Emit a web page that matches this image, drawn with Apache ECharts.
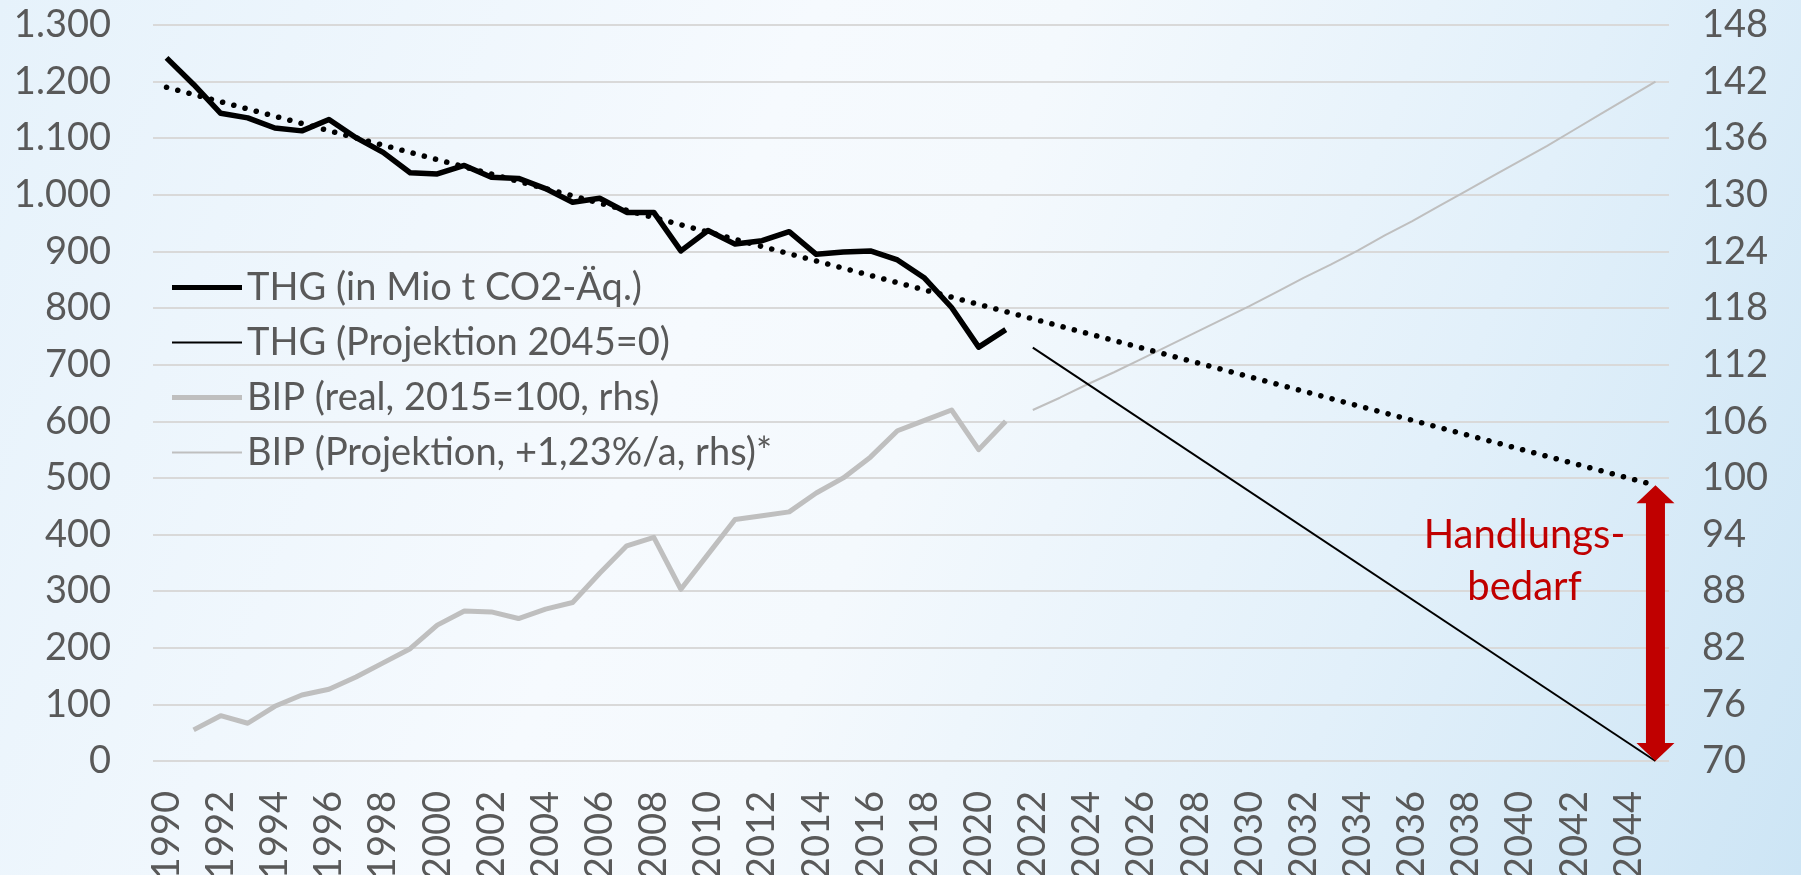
<!DOCTYPE html>
<html>
<head>
<meta charset="utf-8">
<title>THG und BIP</title>
<script src="https://cdn.jsdelivr.net/npm/echarts@6/dist/echarts.min.js"></script>
<style>
    html, body {
        margin: 0;
        padding: 0;
    }
    #chart {
        width: 1801px;
        height: 875px;
        background: linear-gradient(112deg, #e6f2fb 0%, #f6fafe 38%, #f4f9fd 50%, #e2f0fa 75%, #cde5f5 100%);
    }
</style>
</head>
<body>
<div id="chart"></div>
<script>
    // Jahre (Kategorien)
    var years = ['1990', '1991', '1992', '1993', '1994', '1995', '1996', '1997', '1998', '1999',
        '2000', '2001', '2002', '2003', '2004', '2005', '2006', '2007', '2008', '2009',
        '2010', '2011', '2012', '2013', '2014', '2015', '2016', '2017', '2018', '2019',
        '2020', '2021', '2022', '2023', '2024', '2025', '2026', '2027', '2028', '2029',
        '2030', '2031', '2032', '2033', '2034', '2035', '2036', '2037', '2038', '2039',
        '2040', '2041', '2042', '2043', '2044', '2045'];

    // THG in Mio t CO2-Aeq., 1990-2021
    var thgStart = 1990;
    var thgValues = [1242, 1195, 1144, 1136, 1118, 1113, 1133, 1101, 1075, 1039,
        1037, 1052, 1031, 1029, 1011, 987, 994, 969, 969, 901,
        937, 913, 919, 935, 895, 899, 901, 885, 853, 801,
        731, 762];

    // THG Projektion (2045 = 0)
    var thgProjYears = ['2022', '2045'];
    var thgProjValues = [730, 0];

    // Trendlinie THG
    var trendYears = ['1990', '2045'];
    var trendValues = [1190, 487];

    // BIP real, 2015 = 100, 1991-2021
    var bipStart = 1991;
    var bipValues = [73.3, 74.8, 74.0, 75.8, 77.0, 77.6, 78.9, 80.4, 81.9, 84.4,
        85.9, 85.8, 85.1, 86.1, 86.8, 89.9, 92.8, 93.7, 88.2, 91.9,
        95.6, 96.0, 96.4, 98.4, 100.0, 102.2, 105.0, 106.1, 107.2, 103.0,
        106.0];

    // BIP Projektion (+1,23 %/a), 2022-2045
    var bipProjStart = 2022;
    var bipProjValues = [107.2, 108.5, 109.9, 111.2, 112.6, 114.0, 115.4, 116.8, 118.2, 119.7,
        121.2, 122.6, 124.1, 125.7, 127.2, 128.8, 130.4, 132.0, 133.6, 135.2,
        136.9, 138.6, 140.3, 142.0];

    // Handlungsbedarf 2045: Trend vs. Ziel
    var gapYear = '2045';
    var gapTop = 487;
    var gapBottom = 0;

    var seriesNames = ['THG (in Mio t CO2-Äq.)', 'THG (Projektion 2045=0)',
        'BIP (real, 2015=100, rhs)', 'BIP (Projektion, +1,23%/a, rhs)*'];

    var font = 'Lato';
    var textColor = '#595959';
    var red = '#C00000';

    function pairs(start, values) {
        return values.map(function (v, i) {
            return [String(start + i), v];
        });
    }

    function zip(cats, values) {
        return values.map(function (v, i) {
            return [cats[i], v];
        });
    }

    function thousands(v) {
        return String(v).replace(/\B(?=(\d{3})+(?!\d))/g, '.');
    }

    // legend icons: a band inside a 70x14 box
    var iconThick = 'path://M0,0 L1,0 M0,4.5 L70,4.5 L70,9.5 L0,9.5 Z M0,14 L1,14';
    var iconThin = 'path://M0,0 L1,0 M0,6 L70,6 L70,8 L0,8 Z M0,14 L1,14';

    function renderArrow(params, api) {
        var top = api.coord([api.value(0), api.value(1)]);
        var bottom = api.coord([api.value(0), api.value(2)]);
        var x = top[0];
        var headW = 19, headL = 18, shaftW = 9.5;
        return {
            type: 'group',
            children: [
                {
                    type: 'polygon',
                    shape: {
                        points: [
                            [x, top[1]], [x + headW, top[1] + headL], [x + shaftW, top[1] + headL],
                            [x + shaftW, bottom[1] - headL], [x + headW, bottom[1] - headL], [x, bottom[1]],
                            [x - headW, bottom[1] - headL], [x - shaftW, bottom[1] - headL],
                            [x - shaftW, top[1] + headL], [x - headW, top[1] + headL]
                        ]
                    },
                    style: {fill: red}
                },
                {
                    type: 'text',
                    x: x - 131,
                    y: top[1] + 76,
                    style: {
                        text: 'Handlungs-\nbedarf',
                        fill: red,
                        fontFamily: font,
                        fontSize: 40,
                        lineHeight: 52,
                        align: 'center',
                        verticalAlign: 'middle'
                    }
                }
            ]
        };
    }

    var myChart = echarts.init(document.getElementById('chart'), null, {renderer: 'canvas'});

    var option = {
        animation: false,
        backgroundColor: 'transparent',
        textStyle: {
            fontFamily: font,
            color: textColor
        },
        grid: {
            left: 153,
            right: 132,
            top: 25,
            bottom: 114,
            containLabel: false,
            outerBoundsMode: 'none'
        },
        legend: {
            orient: 'vertical',
            left: 172,
            top: 267,
            padding: 0,
            itemWidth: 70,
            itemHeight: 14,
            itemGap: 14,
            selectedMode: false,
            textStyle: {
                fontFamily: font,
                fontSize: 38,
                lineHeight: 41,
                color: textColor
            },
            data: [
                {name: seriesNames[0], icon: iconThick, itemStyle: {borderWidth: 0}},
                {name: seriesNames[1], icon: iconThin, itemStyle: {borderWidth: 0}},
                {name: seriesNames[2], icon: iconThick, itemStyle: {borderWidth: 0}},
                {name: seriesNames[3], icon: iconThin, itemStyle: {borderWidth: 0}}
            ]
        },
        xAxis: {
            type: 'category',
            data: years,
            boundaryGap: true,
            axisLine: {show: false},
            axisTick: {show: false},
            axisLabel: {
                interval: 1,
                rotate: 90,
                margin: 30,
                fontFamily: font,
                fontSize: 38,
                color: textColor
            }
        },
        yAxis: [
            {
                type: 'value',
                min: 0,
                max: 1300,
                interval: 100,
                axisLine: {show: false},
                axisTick: {show: false},
                axisLabel: {
                    margin: 42,
                    fontFamily: font,
                    fontSize: 38,
                    color: textColor,
                    formatter: thousands
                },
                splitLine: {
                    lineStyle: {color: '#d9d9d9', width: 2}
                }
            },
            {
                type: 'value',
                min: 70,
                max: 148,
                interval: 6,
                axisLine: {show: false},
                axisTick: {show: false},
                axisLabel: {
                    margin: 33,
                    fontFamily: font,
                    fontSize: 38,
                    color: textColor
                },
                splitLine: {show: false}
            }
        ],
        series: [
            {
                name: seriesNames[2],
                type: 'line',
                yAxisIndex: 1,
                data: pairs(bipStart, bipValues),
                symbol: 'none',
                color: '#BFBFBF',
                lineStyle: {width: 5, color: '#BFBFBF', join: 'round'},
                z: 2
            },
            {
                name: seriesNames[3],
                type: 'line',
                yAxisIndex: 1,
                data: pairs(bipProjStart, bipProjValues),
                symbol: 'none',
                color: '#BFBFBF',
                lineStyle: {width: 2, color: '#BFBFBF'},
                z: 2
            },
            {
                name: 'Trend',
                type: 'line',
                data: zip(trendYears, trendValues),
                symbol: 'none',
                color: '#000',
                lineStyle: {width: 5.5, color: '#000', type: [0.1, 11.5], cap: 'round'},
                z: 3
            },
            {
                name: seriesNames[0],
                type: 'line',
                data: pairs(thgStart, thgValues),
                symbol: 'none',
                color: '#000',
                lineStyle: {width: 5.5, color: '#000', join: 'round'},
                z: 4
            },
            {
                name: seriesNames[1],
                type: 'line',
                data: zip(thgProjYears, thgProjValues),
                symbol: 'none',
                color: '#000',
                lineStyle: {width: 2, color: '#000'},
                z: 4
            },
            {
                name: 'Handlungsbedarf',
                type: 'custom',
                renderItem: renderArrow,
                encode: {x: 0, y: [1, 2]},
                data: [[gapYear, gapTop, gapBottom]],
                z: 10
            }
        ]
    };

    myChart.setOption(option);
</script>
</body>
</html>
